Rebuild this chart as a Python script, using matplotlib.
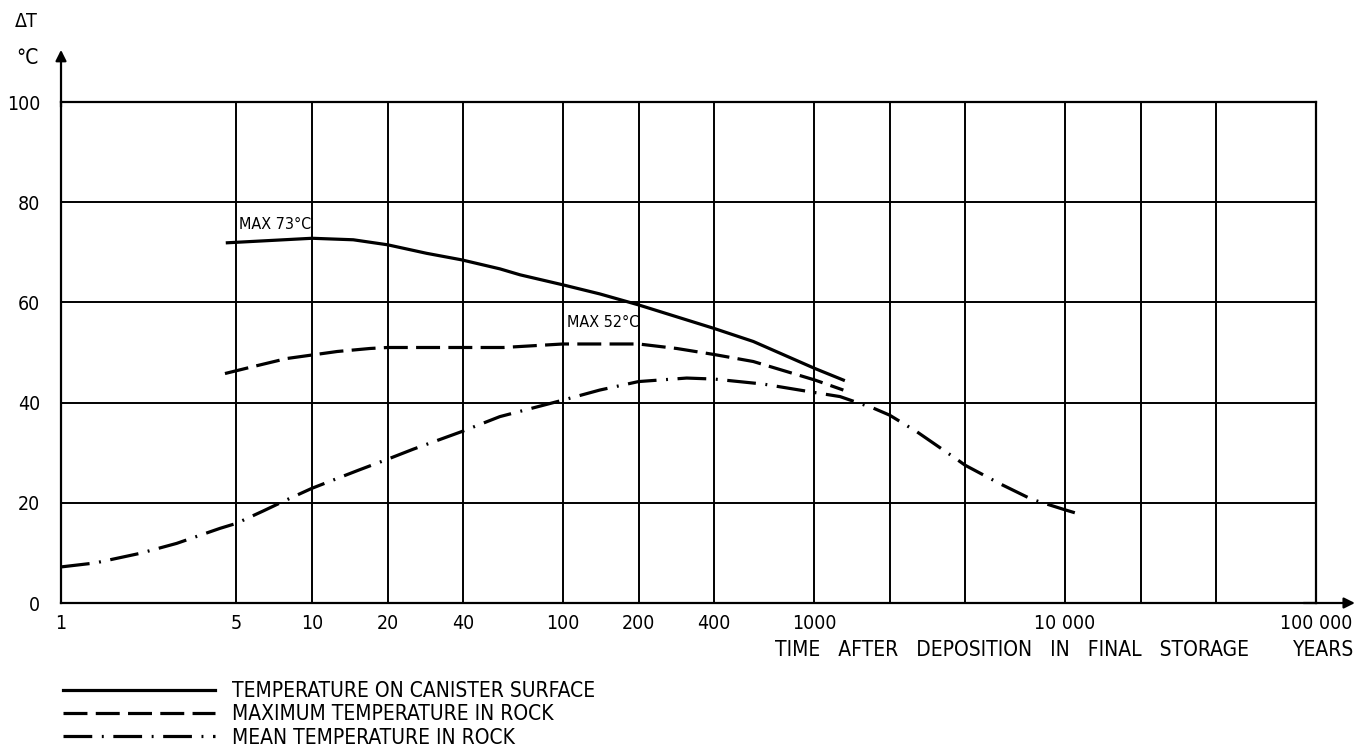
"""
Temperature rise around a deposited canister, redrawn with matplotlib
"""

import matplotlib
matplotlib.use('Agg')
import matplotlib.pyplot as plt
from matplotlib.lines import Line2D

# Years after deposition and temperature rise (deg C)
canisterYears = [4.6, 10, 14.6, 20, 28.6, 39.4, 56, 67.5, 100, 140, 200, 400, 573, 1009, 1309]
canisterTemp = [71.9, 72.8, 72.5, 71.5, 69.8, 68.5, 66.7, 65.5, 63.5, 61.7, 59.5, 54.8, 52.2, 46.8, 44.5]

rockMaxYears = [4.5, 5.84, 7.93, 10, 12.6, 17, 20, 39.4, 57.8, 100, 200, 284, 400, 573, 1009, 1309]
rockMaxTemp = [45.8, 47.2, 48.8, 49.5, 50.2, 50.8, 51.0, 51.0, 51.0, 51.7, 51.7, 50.8, 49.6, 48.2, 44.5, 42.5]

rockMeanYears = [1, 1.37, 2.06, 2.89, 4.3, 5, 6.41, 7.93, 10, 15.3, 20, 25.3, 39.4, 56, 100, 140,
                 200, 311, 400, 628, 1009, 1270, 1723, 2000, 2566, 3702, 4000, 5509, 7366, 10000, 11660]
rockMeanTemp = [7.2, 8.0, 9.9, 11.9, 14.9, 15.9, 18.4, 20.6, 22.9, 26.5, 28.7, 30.7, 34.2, 37.2, 40.5, 42.5,
                44.2, 44.9, 44.7, 43.7, 42.0, 41.2, 38.9, 37.5, 34.2, 28.7, 27.5, 23.8, 20.7, 18.6, 17.6]

# Axis ticks: labelled ones and the extra grid lines
xTickValues = [1, 5, 10, 20, 40, 100, 200, 400, 1000, 10000, 100000]
xTickLabels = ['1', '5', '10', '20', '40', '100', '200', '400', '1000', '10 000', '100 000']
xExtraGrid = [2000, 4000, 20000, 40000]
yTickValues = [0, 20, 40, 60, 80, 100]

seriesLabels = ['TEMPERATURE ON CANISTER SURFACE',
                'MAXIMUM TEMPERATURE IN ROCK',
                'MEAN TEMPERATURE IN ROCK']


def main():
    # narrow lettering, like the stencil text of the original drawing
    plt.rcParams['font.family'] = ['DejaVu Sans']
    plt.rcParams['font.stretch'] = 'condensed'

    fig = plt.figure(figsize=(13.56, 7.55), dpi=100)
    ax = fig.add_axes([0.04499, 0.20132, 0.92552, 0.66358])

    ax.set_xscale('log')
    ax.set_xlim(1, 100000)
    ax.set_ylim(0, 100)

    # Grid
    ax.set_xticks(xTickValues)
    ax.set_xticklabels(xTickLabels)
    ax.set_xticks(xExtraGrid, minor=True)
    ax.set_yticks(yTickValues)
    ax.tick_params(which='both', length=0, labelsize=14)
    ax.tick_params(axis='x', pad=8)
    ax.tick_params(axis='y', pad=15)
    ax.grid(which='both', color='black', lw=1.4)
    for spine in ax.spines.values():
        spine.set_linewidth(1.6)

    # Curves
    lw = 2.3
    ax.plot(canisterYears, canisterTemp, color='black', lw=lw)
    ax.plot(rockMaxYears, rockMaxTemp, color='black', lw=lw, dashes=(7.5, 2.6))
    ax.plot(rockMeanYears, rockMeanTemp, color='black', lw=lw, dashes=(9, 3, 0.6, 3))

    ax.text(5.1, 75.5, 'MAX 73°C', fontsize=11.5, va='center', ha='left')
    ax.text(104, 56.0, 'MAX 52°C', fontsize=11.5, va='center', ha='left')

    # Arrows on the axes
    arrowProps = dict(arrowstyle='-|>', lw=1.6, color='black', mutation_scale=16, shrinkA=0, shrinkB=0)
    ax.annotate('', xy=(0, 1.104), xytext=(0, 0.99), xycoords='axes fraction', arrowprops=arrowProps)
    ax.annotate('', xy=(1.031, 0), xytext=(0.99, 0), xycoords='axes fraction', arrowprops=arrowProps)

    # Axis titles
    fig.text(0.0192, 0.971, 'ΔT', fontsize=14, ha='center', va='center')
    fig.text(0.0199, 0.923, '°C', fontsize=15, ha='center', va='center')
    fig.text(0.5715, 0.139, 'TIME   AFTER   DEPOSITION   IN   FINAL   STORAGE', fontsize=15, ha='left', va='center')
    fig.text(0.9985, 0.139, 'YEARS', fontsize=15, ha='right', va='center')

    # Legend below the chart
    handles = [Line2D([], [], color='black', lw=lw),
               Line2D([], [], color='black', lw=lw, dashes=(7.5, 2.6)),
               Line2D([], [], color='black', lw=lw, dashes=(9, 3, 0.6, 3))]
    fig.legend(handles, seriesLabels, loc='upper left', bbox_to_anchor=(0.0465, 0.0980),
               frameon=False, fontsize=15, handlelength=7.3, handletextpad=0.8,
               labelspacing=0.16, borderpad=0, borderaxespad=0)

    fig.savefig('out.png', dpi=100)


if __name__ == '__main__':
    main()
